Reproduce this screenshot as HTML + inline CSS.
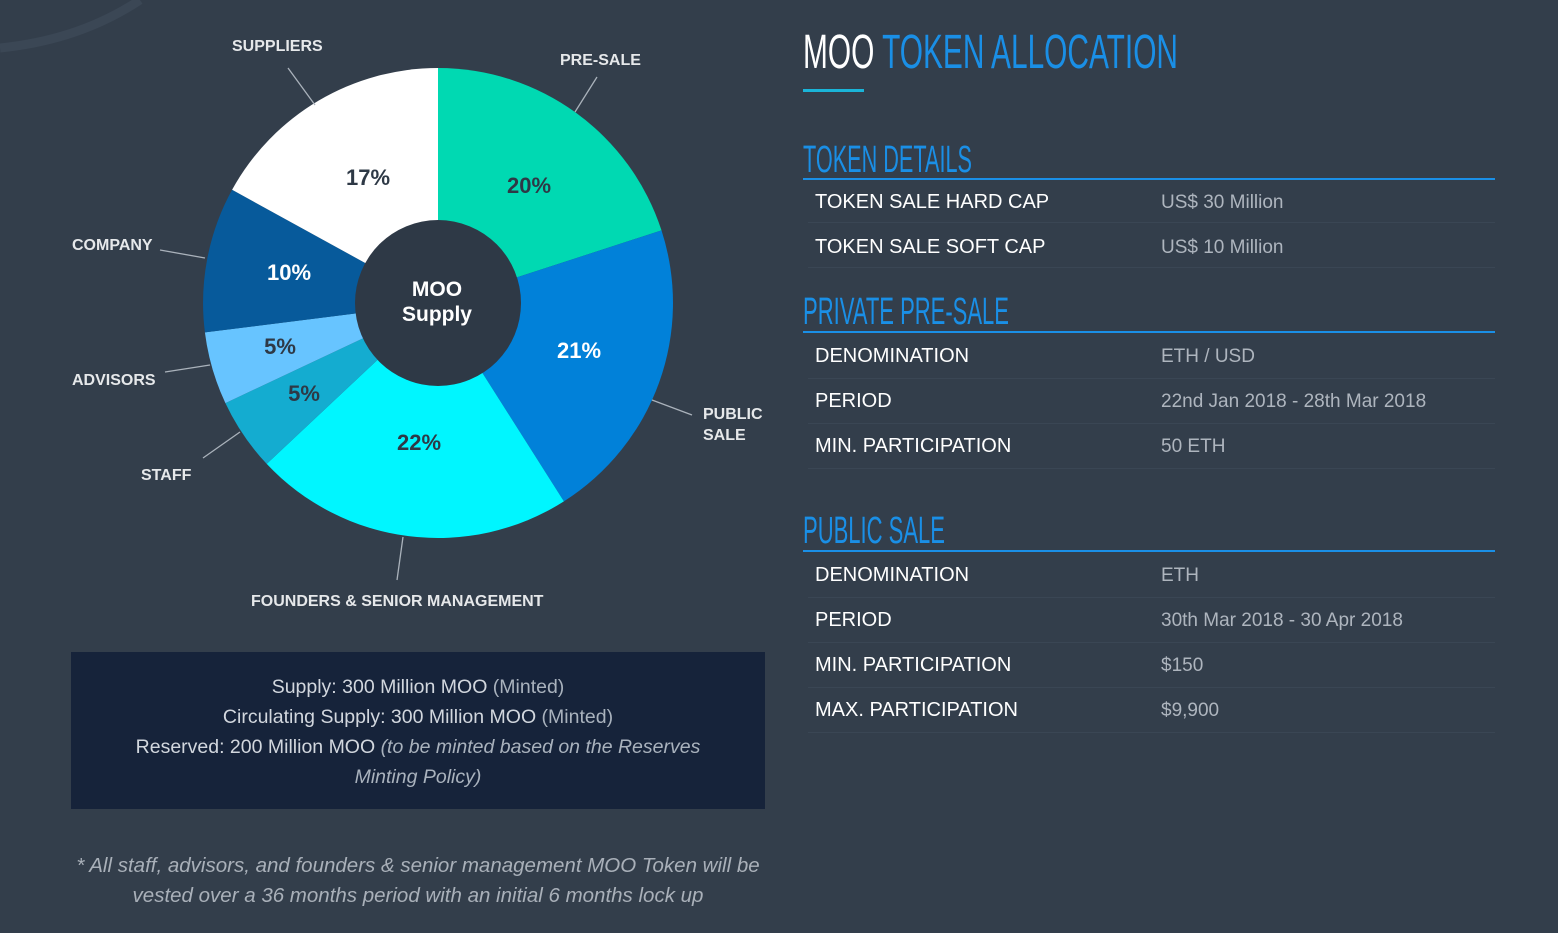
<!DOCTYPE html>
<html><head><meta charset="utf-8"><style>
html,body{margin:0;padding:0;background:#333e4b;}
svg{display:block}
.lbl{font-family:"Liberation Sans",sans-serif;font-weight:bold;font-size:16px;fill:#e6e8ea}
.pct{font-family:"Liberation Sans",sans-serif;font-weight:bold;font-size:22px;text-anchor:middle}
.hd{font-family:"Liberation Sans Narrow","Liberation Sans",sans-serif;fill:#1a8fe6}
.rl{font-family:"Liberation Sans",sans-serif;font-size:20px;fill:#ffffff}
.rv{font-family:"Liberation Sans",sans-serif;font-size:19px;fill:#aeb5be}
.bx{font-family:"Liberation Sans",sans-serif;font-size:19.5px;fill:#d2d7de;text-anchor:middle}
.ft{font-family:"Liberation Sans",sans-serif;font-size:20.5px;font-style:italic;fill:#a9b0b9;text-anchor:middle}
</style></head><body>
<svg width="1558" height="933" viewBox="0 0 1558 933" xmlns="http://www.w3.org/2000/svg">
<rect width="1558" height="933" fill="#333e4b"/>
<path d="M0 48 Q80 40 140 0" stroke="#3b4755" stroke-width="9" fill="none"/>
<path d="M438 303 L438 68 A235 235 0 0 1 661.5 230.4Z" fill="#00d9b2"/>
<path d="M438 303 L661.5 230.4 A235 235 0 0 1 563.9 501.4Z" fill="#0181d9"/>
<path d="M438 303 L563.9 501.4 A235 235 0 0 1 266.7 463.9Z" fill="#00f6ff"/>
<path d="M438 303 L266.7 463.9 A235 235 0 0 1 225.4 403.1Z" fill="#14acd0"/>
<path d="M438 303 L225.4 403.1 A235 235 0 0 1 204.9 332.4Z" fill="#67c4ff"/>
<path d="M438 303 L204.9 332.4 A235 235 0 0 1 232.1 189.8Z" fill="#075a9b"/>
<path d="M438 303 L232.1 189.8 A235 235 0 0 1 438 68Z" fill="#ffffff"/>
<circle cx="438" cy="303" r="83" fill="#2e3946"/>
<text x="437" y="296" class="pct" fill="#fff" style="font-size:21px">MOO</text>
<text x="437" y="321" class="pct" fill="#fff" style="font-size:21px">Supply</text>
<text x="368" y="185" class="pct" fill="#2e3946">17%</text>
<text x="529" y="193" class="pct" fill="#2e3946">20%</text>
<text x="289" y="280" class="pct" fill="#fff">10%</text>
<text x="280" y="354" class="pct" fill="#2e3946">5%</text>
<text x="304" y="401" class="pct" fill="#2e3946">5%</text>
<text x="419" y="450" class="pct" fill="#2e3946">22%</text>
<text x="579" y="358" class="pct" fill="#fff">21%</text>
<g stroke="#aab2bb" stroke-width="1.3">
<line x1="288" y1="68" x2="315" y2="105"/>
<line x1="597" y1="77" x2="575" y2="112"/>
<line x1="160" y1="250" x2="205" y2="258"/>
<line x1="165" y1="372" x2="210" y2="365"/>
<line x1="203" y1="458" x2="240" y2="432"/>
<line x1="652" y1="400" x2="692" y2="415"/>
<line x1="403" y1="537" x2="397" y2="580"/>
</g>
<text x="232" y="51" class="lbl">SUPPLIERS</text>
<text x="560" y="65" class="lbl">PRE-SALE</text>
<text x="72" y="250" class="lbl">COMPANY</text>
<text x="72" y="385" class="lbl">ADVISORS</text>
<text x="141" y="480" class="lbl">STAFF</text>
<text x="703" y="419" class="lbl">PUBLIC</text>
<text x="703" y="440" class="lbl">SALE</text>
<text x="251" y="606" class="lbl">FOUNDERS &amp; SENIOR MANAGEMENT</text>
<rect x="71" y="652" width="694" height="157" fill="#16233a"/>
<text x="418" y="693" class="bx">Supply: 300 Million MOO <tspan style="fill:#a9b2bd">(Minted)</tspan></text>
<text x="418" y="723" class="bx">Circulating Supply: 300 Million MOO <tspan style="fill:#a9b2bd">(Minted)</tspan></text>
<text x="418" y="753" class="bx">Reserved: 200 Million MOO <tspan style="fill:#a9b2bd;font-style:italic">(to be minted based on the Reserves</tspan></text>
<text x="418" y="783" class="bx" style="fill:#a9b2bd;font-style:italic">Minting Policy)</text>
<text x="418" y="872" class="ft">* All staff, advisors, and founders &amp; senior management MOO Token will be</text>
<text x="418" y="902" class="ft">vested over a 36 months period with an initial 6 months lock up</text>
<text x="803" y="68" class="hd" font-size="48" textLength="375" lengthAdjust="spacingAndGlyphs"><tspan fill="#fff">MOO</tspan> TOKEN ALLOCATION</text>
<rect x="803" y="89" width="61" height="3" fill="#1ab4d8"/>
<text x="803" y="172" class="hd" font-size="38" textLength="169" lengthAdjust="spacingAndGlyphs">TOKEN DETAILS</text>
<rect x="803" y="178" width="692" height="2" fill="#1a8fe6"/>
<text x="815" y="208" class="rl">TOKEN SALE HARD CAP</text><text x="1161" y="208" class="rv">US$ 30 Million</text>
<text x="815" y="253" class="rl">TOKEN SALE SOFT CAP</text><text x="1161" y="253" class="rv">US$ 10 Million</text>
<g fill="#3a4654"><rect x="808" y="222" width="687" height="1"/><rect x="808" y="267" width="687" height="1"/></g>
<text x="803" y="324" class="hd" font-size="38" textLength="206" lengthAdjust="spacingAndGlyphs">PRIVATE PRE-SALE</text>
<rect x="803" y="331" width="692" height="2" fill="#1a8fe6"/>
<text x="815" y="362" class="rl">DENOMINATION</text><text x="1161" y="362" class="rv">ETH / USD</text>
<text x="815" y="407" class="rl">PERIOD</text><text x="1161" y="407" class="rv">22nd Jan 2018 - 28th Mar 2018</text>
<text x="815" y="452" class="rl">MIN. PARTICIPATION</text><text x="1161" y="452" class="rv">50 ETH</text>
<g fill="#3a4654"><rect x="808" y="378" width="687" height="1"/><rect x="808" y="423" width="687" height="1"/><rect x="808" y="468" width="687" height="1"/></g>
<text x="803" y="543" class="hd" font-size="38" textLength="142" lengthAdjust="spacingAndGlyphs">PUBLIC SALE</text>
<rect x="803" y="550" width="692" height="2" fill="#1a8fe6"/>
<text x="815" y="581" class="rl">DENOMINATION</text><text x="1161" y="581" class="rv">ETH</text>
<text x="815" y="626" class="rl">PERIOD</text><text x="1161" y="626" class="rv">30th Mar 2018 - 30 Apr 2018</text>
<text x="815" y="671" class="rl">MIN. PARTICIPATION</text><text x="1161" y="671" class="rv">$150</text>
<text x="815" y="716" class="rl">MAX. PARTICIPATION</text><text x="1161" y="716" class="rv">$9,900</text>
<g fill="#3a4654"><rect x="808" y="597" width="687" height="1"/><rect x="808" y="642" width="687" height="1"/><rect x="808" y="687" width="687" height="1"/><rect x="808" y="732" width="687" height="1"/></g>
</svg>
</body></html>
